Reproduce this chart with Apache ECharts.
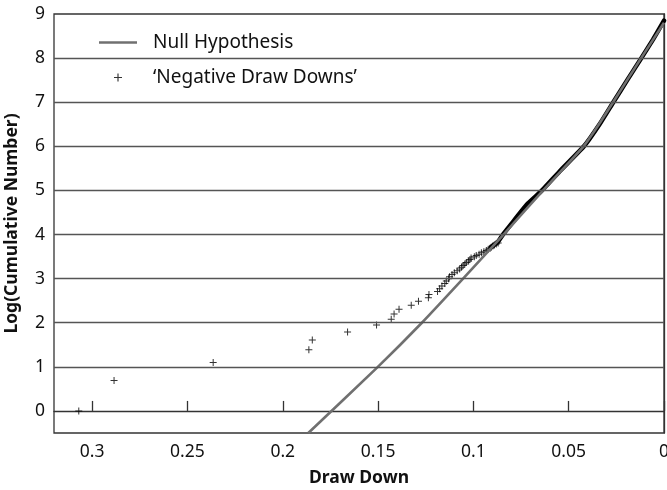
<!DOCTYPE html>
<html><head><meta charset="utf-8">
<script src="https://cdn.jsdelivr.net/npm/echarts@6/dist/echarts.min.js"></script>
<style>html,body{margin:0;padding:0;background:#fff}#c{width:667px;height:490px}</style>
</head><body><div id="c"></div>
<script>
// Null hypothesis curve (draw down, log cumulative number)
const nullDrawDown = [0.1866, 0.1501, 0.1270, 0.1054, 0.0842, 0.0634, 0.0527, 0.0422, 0.0341, 0.0267, 0.0120, 0.0];
const nullLogCum   = [-0.5, 1.0, 2.0, 3.0, 4.0, 5.0, 5.5, 6.0, 6.5, 7.0, 8.0, 8.8];

// Individually visible 'Negative Draw Downs' points (sparse tail)
const tailDrawDown = [0.307, 0.2885, 0.2365, 0.1863, 0.1845, 0.166, 0.1508, 0.1431, 0.1416, 0.139,
  0.1326, 0.1288, 0.1236, 0.1233, 0.1188, 0.1177, 0.1165, 0.1150, 0.1142, 0.1130,
  0.1125, 0.1112, 0.1100, 0.1085, 0.1072, 0.1062, 0.1054, 0.1045, 0.1037, 0.1025,
  0.1018, 0.1012, 0.0995, 0.0985, 0.0970, 0.0958, 0.0945, 0.0932, 0.0922, 0.0912,
  0.0906, 0.0898, 0.0890, 0.0880, 0.0870];
const tailLogCum = [0, 0.693, 1.099, 1.386, 1.609, 1.792, 1.946, 2.079, 2.197, 2.303,
  2.398, 2.485, 2.565, 2.639, 2.708, 2.773, 2.833, 2.890, 2.944, 2.996,
  3.045, 3.091, 3.135, 3.178, 3.219, 3.258, 3.296, 3.332, 3.367, 3.401,
  3.434, 3.466, 3.497, 3.526, 3.555, 3.584, 3.611, 3.638, 3.664, 3.689,
  3.714, 3.738, 3.761, 3.784, 3.807];

// Dense part of 'Negative Draw Downs' (appears as a solid band)
const denseDrawDown = [0.0906, 0.087, 0.0845, 0.079, 0.0715, 0.0640, 0.0548, 0.0420, 0.0338, 0.0266,
  0.0193, 0.0119, 0.0058, 0.0];
const denseLogCum = [3.72, 3.84, 4.0, 4.3, 4.7, 5.0, 5.43, 6.0, 6.5, 7.0,
  7.5, 8.0, 8.42, 8.85];

const gridLevels = [1, 2, 3, 4, 5, 6, 7, 8];

const FONT = 'Noto Sans';
const PLUS = 'path://M3,0H4V7H3ZM0,3H7V4H0Z';
const zip = (a, b) => a.map((v, i) => [v, b[i]]);

const chart = echarts.init(document.getElementById('c'));
chart.setOption({
  animation: false,
  textStyle: { fontFamily: FONT },
  grid: { left: 54, right: 3, top: 14, bottom: 57, show: true, borderColor: '#333', borderWidth: 1.3,
    containLabel: false, outerBoundsMode: 'none' },
  legend: {
    orient: 'vertical', left: 94, top: 28, itemWidth: 38, itemHeight: 8, itemGap: 16,
    textStyle: { fontFamily: FONT, fontSize: 19, color: '#111', padding: [0, 0, 0, 11] },
    data: [
      { name: 'Null Hypothesis', icon: 'path://M0,0H38V2.5H0Z' },
      { name: '\u2018Negative Draw Downs\u2019', icon: PLUS }
    ]
  },
  xAxis: {
    type: 'value', inverse: true, min: 0, max: 0.32, interval: 0.05,
    name: 'Draw Down', nameLocation: 'middle', nameGap: 36,
    nameTextStyle: { fontFamily: FONT, fontWeight: 'bold', fontSize: 17.5, color: '#111' },
    axisLine: { show: true, lineStyle: { color: '#333', width: 1.3 } },
    axisTick: { show: true, inside: true, length: 10, lineStyle: { color: '#333', width: 1.3 } },
    axisLabel: { fontFamily: FONT, fontSize: 17.5, color: '#111', margin: 10, showMaxLabel: false },
    splitLine: { show: false }
  },
  yAxis: {
    type: 'value', min: -0.5, max: 9, splitNumber: 10,
    name: 'Log(Cumulative Number)', nameLocation: 'middle', nameGap: 33, nameRotate: 90,
    nameTextStyle: { fontFamily: FONT, fontWeight: 'bold', fontSize: 17.5, color: '#111' },
    axisLine: { show: true, lineStyle: { color: '#333', width: 1.3 } },
    axisTick: { show: false },
    axisLabel: { fontFamily: FONT, fontSize: 17.5, color: '#111', margin: 9,
      formatter: v => (v === -0.5 ? '' : String(v)) },
    splitLine: { show: false }
  },
  series: [
    {
      name: 'grid', type: 'line', data: [], z: 1, silent: true,
      markLine: {
        silent: true, symbol: 'none', label: { show: false },
        lineStyle: { color: '#555', width: 1.3, type: 'solid' },
        data: gridLevels.map(v => ({ yAxis: v }))
      }
    },
    {
      name: '\u2018Negative Draw Downs\u2019', type: 'scatter', z: 3,
      symbol: PLUS, symbolSize: 7, itemStyle: { color: '#000' },
      data: zip(tailDrawDown, tailLogCum)
    },
    {
      name: 'dense', type: 'line', z: 3, showSymbol: false, smooth: 0.15,
      lineStyle: { color: '#000', width: 4.5, join: 'round', cap: 'round' }, itemStyle: { color: '#000' },
      data: zip(denseDrawDown, denseLogCum)
    },
    {
      name: 'Null Hypothesis', type: 'line', z: 4, showSymbol: false, smooth: 0.15,
      lineStyle: { color: '#707070', width: 2.6, join: 'round' }, itemStyle: { color: '#707070' },
      data: zip(nullDrawDown, nullLogCum)
    }
  ]
});
</script></body></html>
